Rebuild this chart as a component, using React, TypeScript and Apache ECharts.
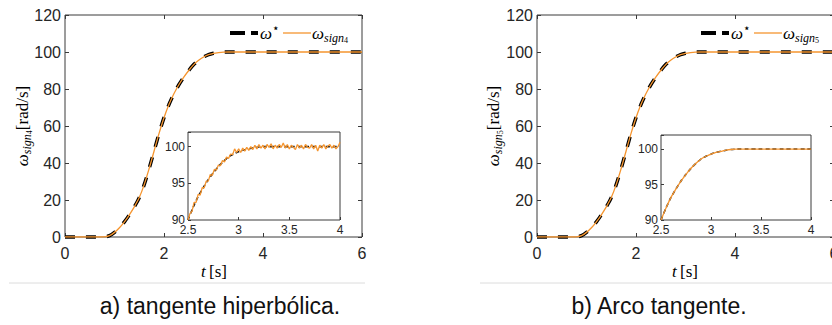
import React, { useEffect, useRef } from 'react';
import * as echarts from 'echarts';

// Main plot samples (time in s, speed in rad/s)
const mainTime = [0, 0.2, 0.4, 0.6, 0.7, 0.8, 0.9, 1.0, 1.1, 1.2, 1.3, 1.4, 1.5, 1.6, 1.7, 1.8, 1.9, 2.0, 2.1, 2.2, 2.3, 2.4, 2.5, 2.6, 2.7, 2.8, 2.9, 3.0, 3.1, 3.2, 3.3, 3.4, 3.6, 4, 5, 6];
const omegaRef = [0, 0, 0, 0, 0, 0.1, 0.7, 2.5, 5.0, 8.2, 12.0, 16.3, 21.3, 28.3, 37, 46.5, 56, 64.5, 71.6, 77.4, 82.3, 86.4, 90, 93.2, 95.5, 97.3, 98.6, 99.3, 99.7, 99.95, 100, 100, 100, 100, 100, 100];
const omegaSign4 = [0, 0, 0, 0, 0, 0.1, 0.7, 2.5, 5.0, 8.2, 12.0, 16.3, 21.3, 28.3, 37, 46.5, 56, 64.5, 71.6, 77.4, 82.3, 86.4, 90, 93.2, 95.5, 97.3, 98.6, 99.3, 99.7, 99.95, 100, 100, 100, 100, 100, 100];
const omegaSign5 = [0, 0, 0, 0, 0, 0.1, 0.7, 2.5, 5.0, 8.2, 12.0, 16.3, 21.3, 28.3, 37, 46.5, 56, 64.5, 71.6, 77.4, 82.3, 86.4, 90, 93.2, 95.5, 97.3, 98.6, 99.3, 99.7, 99.95, 100, 100, 100, 100, 100, 100];

// Inset samples
const insetTime = [2.5, 2.55, 2.6, 2.65, 2.7, 2.75, 2.8, 2.85, 2.9, 2.95, 3.0, 3.05, 3.1, 3.15, 3.2, 3.25, 3.3, 3.35, 3.4, 3.45, 3.5, 3.55, 3.6, 3.65, 3.7, 3.75, 3.8, 3.85, 3.9, 3.95, 4.0];
const insetRef = [90, 91.7, 93.2, 94.4, 95.5, 96.45, 97.3, 98.0, 98.6, 99.0, 99.3, 99.55, 99.7, 99.85, 99.95, 100, 100, 100, 100, 100, 100, 100, 100, 100, 100, 100, 100, 100, 100, 100, 100];
const insetSign5 = [90, 91.7, 93.2, 94.4, 95.5, 96.45, 97.3, 98.0, 98.6, 99.0, 99.3, 99.55, 99.7, 99.85, 99.95, 100, 100, 100, 100, 100, 100, 100, 100, 100, 100, 100, 100, 100, 100, 100, 100];
const insetSign4 = [
  90.0, 90.9, 91.2, 92.4, 92.4, 93.5, 93.4, 94.4, 94.4, 95.3,
  95.3, 96.2, 96.1, 96.9, 96.8, 97.5, 97.4, 98.1, 97.9, 98.6,
  98.4, 99.0, 98.9, 99.7, 99.2, 99.7, 99.2, 99.8, 99.4, 99.9,
  99.5, 100.0, 99.6, 100.2, 99.7, 100.3, 99.8, 100.2, 99.7, 100.3,
  99.9, 100.4, 99.7, 100.2, 99.8, 100.3, 99.9, 100.5, 99.8, 100.3,
  99.7, 100.2, 99.9, 99.6, 100.3, 99.8, 100.2, 99.7, 100.3, 99.9,
  99.8, 100.3, 99.7, 100.2, 99.4, 100.2, 99.8, 100.3, 99.7, 100.1,
  100.3, 99.8, 100.2, 99.7, 100.0, 100.6
];
const insetSign4Time = insetSign4.map((_, i) => 2.5 + i * 0.02);

const mainXTicks = { min: 0, max: 6, interval: 2 };
const mainYTicks = { min: 0, max: 120, interval: 20 };
const insetXTicks = { min: 2.5, max: 4, interval: 0.5 };
const insetYTicks = { min: 90, max: 102, interval: 5 };

const captions = ['a) tangente hiperbólica.', 'b) Arco tangente.'];
const subIndex = ['4', '5'];

const AX = '#3a3a3a';
const TXT = '#262626';
const ORANGE = '#F5952F';
const SERIF = '"Liberation Serif", "DejaVu Serif", serif';
const SANS = '"Liberation Sans", Arial, sans-serif';

const pairs = (xs: number[], ys: number[]) => xs.map((x, i) => [x, ys[i]]);

function xAxisDef(grid: number, pos: string, labels: boolean, ticks: any, inset: boolean) {
  return {
    type: 'value', gridIndex: grid, position: pos, ...ticks,
    axisLine: { show: false, onZero: false },
    axisTick: { show: true, inside: true, length: inset ? 3 : 4, lineStyle: { color: AX, width: 1 } },
    axisLabel: { show: labels, color: TXT, fontSize: inset ? 12 : 16, fontFamily: SANS, margin: inset ? 4 : 8 },
    splitLine: { show: false },
  };
}
function yAxisDef(grid: number, pos: string, labels: boolean, ticks: any, inset: boolean) {
  return {
    type: 'value', gridIndex: grid, position: pos, ...ticks,
    axisLine: { show: false, onZero: false },
    axisTick: { show: true, inside: true, length: inset ? 3 : 4, lineStyle: { color: AX, width: 1 } },
    axisLabel: {
      show: labels, color: TXT, fontSize: inset ? 12 : 16, fontFamily: SANS, margin: inset ? 3 : 4,
      formatter: (v: number) => (v % ticks.interval === 0 ? String(v) : ''),
    },
    splitLine: { show: false },
  };
}

function dashedLine(xi: number, data: number[][], inset: boolean) {
  return {
    type: 'line', xAxisIndex: xi, yAxisIndex: xi, data, symbol: 'none', smooth: inset ? 0.2 : 0.3,
    clip: inset, z: 2,
    lineStyle: inset ? { color: '#1a1a1a', width: 1.6, type: [4, 3] } : { color: '#000', width: 3.5, type: [10, 11] },
  };
}
function orangeLine(xi: number, data: number[][], smooth: any) {
  return {
    type: 'line', xAxisIndex: xi, yAxisIndex: xi, data, symbol: 'none', smooth, clip: true, z: 3,
    lineStyle: { color: ORANGE, width: 1.3 },
  };
}

const labelRich = {
  w: { fontFamily: SERIF, fontStyle: 'italic', fontSize: 17, lineHeight: 22, color: TXT },
  s: { fontFamily: SERIF, fontStyle: 'italic', fontSize: 12, lineHeight: 12, verticalAlign: 'bottom', color: TXT },
  n: { fontFamily: SERIF, fontSize: 8, lineHeight: 6, verticalAlign: 'bottom', color: TXT },
  u: { fontFamily: SERIF, fontSize: 17, lineHeight: 22, color: TXT },
  sup: { fontFamily: '"DejaVu Sans", sans-serif', fontSize: 12, lineHeight: 12, verticalAlign: 'top', color: TXT },
};

function panelGraphics(offset: number, idx: number) {
  const els: any[] = [];
  els.push({
    type: 'text', x: 22 + offset, y: 126, rotation: Math.PI / 2,
    style: { text: `{w|ω}{s|sign}{n|${subIndex[idx]}}{u|[rad/s]}`, rich: labelRich, align: 'center', verticalAlign: 'middle' },
  });
  els.push({
    type: 'text', x: 214 + offset, y: 271,
    style: { text: '{w|t} {u|[s]}', rich: labelRich, align: 'center', verticalAlign: 'middle' },
  });
  els.push({ type: 'line', shape: { x1: 230 + offset, y1: 33, x2: 258 + offset, y2: 33 }, style: { stroke: '#000', lineWidth: 4, lineDash: [15, 6] } });
  els.push({
    type: 'text', x: 260 + offset, y: 33,
    style: { text: '{w|ω}{sup|⋆}', rich: labelRich, align: 'left', verticalAlign: 'middle' },
  });
  els.push({ type: 'line', shape: { x1: 283 + offset, y1: 33, x2: 311 + offset, y2: 33 }, style: { stroke: ORANGE, lineWidth: 1.3 } });
  els.push({
    type: 'text', x: 312 + offset, y: 33,
    style: { text: `{w|ω}{s|sign}{n|${subIndex[idx]}}`, rich: labelRich, align: 'left', verticalAlign: 'middle' },
  });
  return els;
}

export default function App() {
  const ref = useRef<HTMLDivElement>(null);
  useEffect(() => {
    if (!ref.current) return;
    const chart = echarts.init(ref.current, null, { renderer: 'svg' });
    const g = (left: number, top: number, width: number, height: number, bg: string) => ({
      left, top, width, height, show: true, borderColor: AX, borderWidth: 1, backgroundColor: bg,
      containLabel: false, outerBoundsMode: 'none',
    });
    const option: any = {
      animation: false,
      backgroundColor: '#ffffff',
      grid: [
        g(65, 15, 297, 222, 'transparent'),
        g(188, 132, 152, 88, '#ffffff'),
        g(537, 15, 297, 222, 'transparent'),
        g(661, 135, 150, 85, '#ffffff'),
      ],
      xAxis: [
        xAxisDef(0, 'bottom', true, mainXTicks, false),
        xAxisDef(1, 'bottom', true, insetXTicks, true),
        xAxisDef(2, 'bottom', true, mainXTicks, false),
        xAxisDef(3, 'bottom', true, insetXTicks, true),
        xAxisDef(0, 'top', false, mainXTicks, false),
        xAxisDef(2, 'top', false, mainXTicks, false),
      ],
      yAxis: [
        yAxisDef(0, 'left', true, mainYTicks, false),
        yAxisDef(1, 'left', true, insetYTicks, true),
        yAxisDef(2, 'left', true, mainYTicks, false),
        yAxisDef(3, 'left', true, insetYTicks, true),
        yAxisDef(0, 'right', false, mainYTicks, false),
        yAxisDef(2, 'right', false, mainYTicks, false),
      ],
      series: [
        dashedLine(0, pairs(mainTime, omegaRef), false),
        orangeLine(0, pairs(mainTime, omegaSign4), 0.3),
        dashedLine(1, pairs(insetTime, insetRef), true),
        orangeLine(1, pairs(insetSign4Time, insetSign4), false),
        dashedLine(2, pairs(mainTime, omegaRef), false),
        orangeLine(2, pairs(mainTime, omegaSign5), 0.3),
        dashedLine(3, pairs(insetTime, insetRef), true),
        orangeLine(3, pairs(insetTime, insetSign5), 0.2),
      ],
      graphic: [
        ...panelGraphics(0, 0),
        ...panelGraphics(471, 1),
        { type: 'line', shape: { x1: 9, y1: 283, x2: 365, y2: 283 }, style: { stroke: '#dcdcdc', lineWidth: 1 } },
        { type: 'line', shape: { x1: 480, y1: 283, x2: 832, y2: 283 }, style: { stroke: '#dcdcdc', lineWidth: 1 } },
        { type: 'text', x: 220, y: 306, style: { text: captions[0], font: `23px ${SANS}`, fill: '#111', align: 'center', verticalAlign: 'middle' } },
        { type: 'text', x: 659, y: 306, style: { text: captions[1], font: `23px ${SANS}`, fill: '#111', align: 'center', verticalAlign: 'middle' } },
      ],
    };
    chart.setOption(option);
    return () => chart.dispose();
  }, []);
  return <div ref={ref} style={{ position: 'fixed', left: 0, top: 0, width: 832, height: 325, background: '#fff' }} />;
}
